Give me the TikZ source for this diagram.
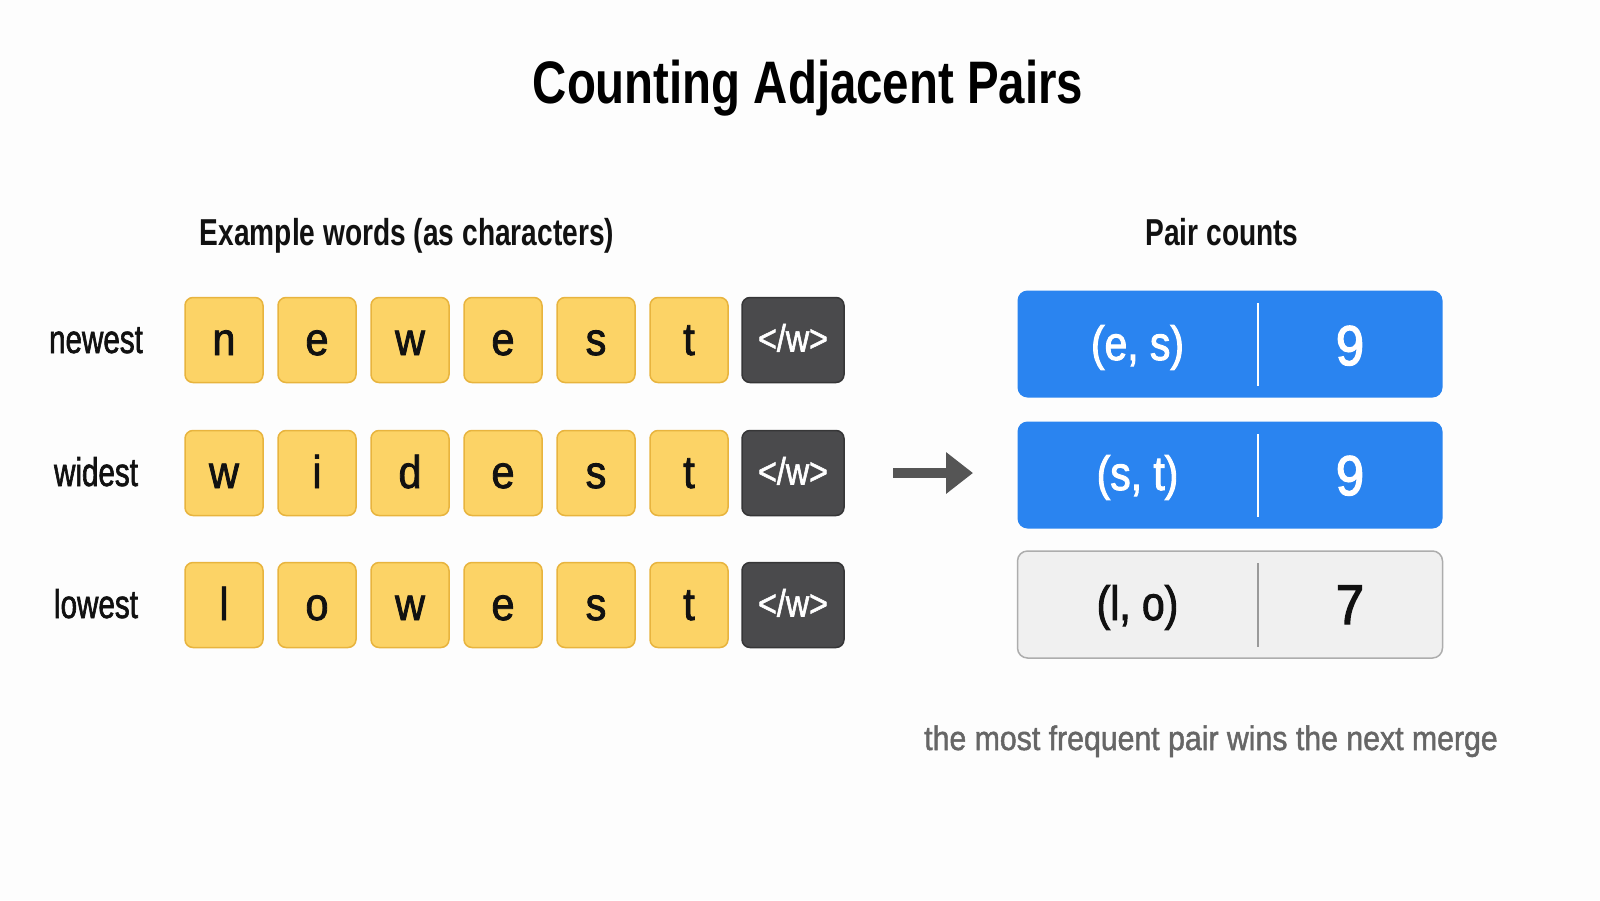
\documentclass[tikz,border=0pt]{standalone}
\usepackage{fontspec}
\setmainfont{Liberation Sans}
\newfontfamily\ftitle[FakeStretch=0.79]{Liberation Sans}
\newfontfamily\fsub[FakeStretch=0.75]{Liberation Sans}
\newfontfamily\flab[FakeStretch=0.74,FakeBold=1.5]{Liberation Sans}
\newfontfamily\ftile[FakeStretch=0.9,FakeBold=1.8]{Liberation Sans}
\newfontfamily\feow[FakeStretch=0.85,FakeBold=1.5]{Liberation Sans}
\newfontfamily\fpair[FakeStretch=0.85,FakeBold=2]{Liberation Sans}
\newfontfamily\fnum[FakeStretch=0.9,FakeBold=2.5]{Liberation Sans}
\newfontfamily\fcap[FakeStretch=0.89,FakeBold=1.4]{Liberation Sans}
\usetikzlibrary{arrows.meta,calc}
\definecolor{bgc}{HTML}{FDFDFD}
\definecolor{tileY}{HTML}{FCD366}
\definecolor{tileYb}{HTML}{E8B43E}
\definecolor{tileD}{HTML}{4A4A4C}
\definecolor{tileDb}{HTML}{363637}
\definecolor{pairB}{HTML}{2A84F0}
\definecolor{pairG}{HTML}{F0F0F0}
\definecolor{pairGb}{HTML}{ADADAD}
\definecolor{divG}{HTML}{9A9A9A}
\definecolor{captc}{HTML}{666666}
\definecolor{arrowc}{HTML}{555555}
\definecolor{inkc}{HTML}{111111}
\begin{document}
\begin{tikzpicture}[x=1pt,y=-1pt,
  titletxt/.style={anchor=base, inner sep=0pt, text=black, font=\ftitle\bfseries\fontsize{60}{72}\selectfont},
  subtxt/.style={anchor=base, inner sep=0pt, text=inkc, font=\fsub\bfseries\fontsize{37.5}{45}\selectfont},
  rowlab/.style={anchor=base, inner sep=0pt, text=inkc, font=\flab\fontsize{40}{48}\selectfont},
  ytile/.style={draw=tileYb, fill=tileY, line width=1.5pt, rounded corners=8pt,
    minimum width=78pt, minimum height=85pt, inner sep=0pt, text height=35pt, text depth=5pt,
    text=inkc, font=\ftile\fontsize{46}{55}\selectfont},
  etile/.style={draw=tileDb, fill=tileD, line width=1.5pt, rounded corners=8pt,
    minimum width=102pt, minimum height=85pt, inner sep=0pt, text height=27pt, text depth=4pt,
    text=white, font=\feow\fontsize{38}{46}\selectfont},
  pairbox/.style={rounded corners=10pt, minimum width=425pt, minimum height=107pt, inner sep=0pt},
  pairtxt/.style={anchor=base, inner sep=0pt, font=\fpair\fontsize{48}{58}\selectfont},
  numtxt/.style={anchor=base, inner sep=0pt, font=\fnum\fontsize{56}{67}\selectfont},
  captxt/.style={anchor=base, inner sep=0pt, text=captc, font=\fcap\fontsize{34}{41}\selectfont},
  bigarrow/.style={draw=arrowc, line width=10pt, -{Triangle[length=27pt,width=40pt]}}
]
\fill[bgc] (0,0) rectangle (1600,900);
\useasboundingbox (0,0) rectangle (1600,900);

\node[titletxt] (title) at (808,103) {Counting Adjacent Pairs};
\node[subtxt] (subl) at (407,245) {Example words (as characters)};
\node[subtxt] (subr) at (1222,245) {Pair counts};

\foreach \r/\y/\lab/\letters in {1/340/newest/{n,e,w,e,s,t}, 2/473/widest/{w,i,d,e,s,t}, 3/605/lowest/{l,o,w,e,s,t}} {
  \node[rowlab] (lab\r) at (96,\y+13) {\lab};
  \foreach \ch [count=\c] in \letters {
    \node[ytile] (t\r\c) at ({224+93*(\c-1)},\y) {\ch};
  }
  \node[etile] (e\r) at (793,\y) {</w>};
}

\coordinate (as) at (893,473);
\coordinate (ae) at (973,473);
\draw[bigarrow] (as) -- (ae);

\node[pairbox, fill=pairB] (p1) at (1230,344) {};
\node[pairbox, fill=pairB] (p2) at (1230,475) {};
\node[pairbox, fill=pairG, draw=pairGb, line width=1.5pt] (p3) at (1230,604.5) {};

\draw[white, line width=2pt] ($(p1.north west)+(241,13)$) -- ($(p1.south west)+(241,-12)$);
\draw[white, line width=2pt] ($(p2.north west)+(241,13)$) -- ($(p2.south west)+(241,-12)$);
\draw[divG, line width=1.5pt] ($(p3.north west)+(241,13)$) -- ($(p3.south west)+(241,-12)$);

\node[pairtxt, text=white] (k1) at (1137.5,360) {(e, s)};
\node[numtxt, text=white] (n1) at (1350,365) {9};
\node[pairtxt, text=white] (k2) at (1137.5,490) {(s, t)};
\node[numtxt, text=white] (n2) at (1350,495) {9};
\node[pairtxt, text=inkc] (k3) at (1137.5,620) {(l, o)};
\node[numtxt, text=inkc] (n3) at (1350,624) {7};

\node[captxt] (cap) at (1211,750) {the most frequent pair wins the next merge};
\end{tikzpicture}
\end{document}
